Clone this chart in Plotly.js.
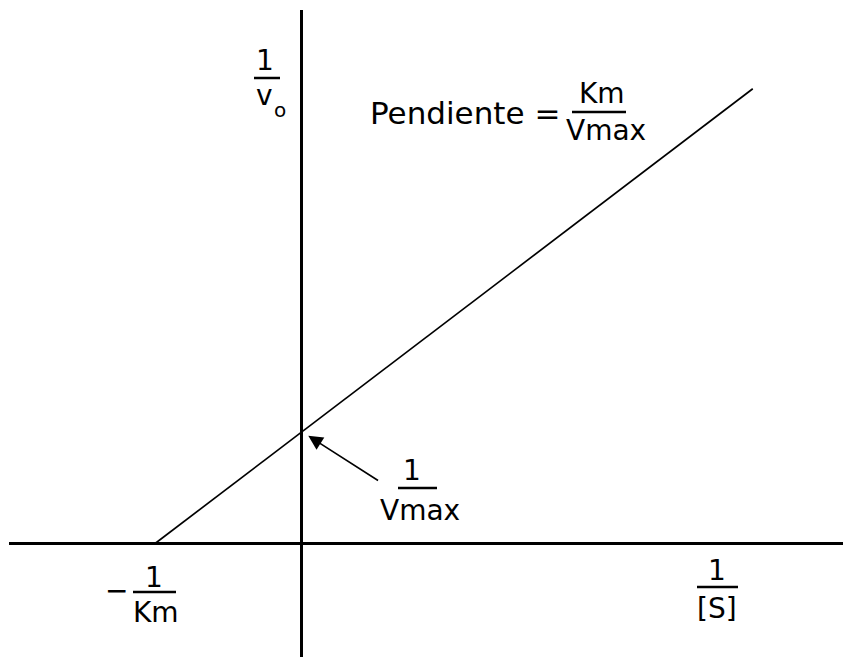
<!DOCTYPE html>
<html>
<head>
<meta charset="utf-8">
<script src="https://cdn.plot.ly/plotly-3.0.1.min.js"></script>
<style>
  html, body { margin: 0; padding: 0; background: #fff; }
  #plot { width: 843px; height: 657px; }
</style>
</head>
<body>
<div id="plot"></div>
<script>
// Lineweaver–Burk double-reciprocal plot (Km = 1, Vmax = 1 in plot units)
const invS = [-1, 3.08];   // 1/[S]
const invV = [0, 4.06];    // 1/v0
const interceptX = [0];    // where the line meets the 1/v0 axis
const interceptY = [1];    // 1/Vmax

const W = 843, H = 657;
const M = {l: 9, r: 0, t: 10, b: 0};
const pw = W - M.l - M.r, ph = H - M.t - M.b;
// page pixel -> paper fraction, for label placement
const px = x => (x - M.l) / pw;
const py = y => 1 - (y - M.t) / ph;

const FONT = 'DejaVu Sans';
function label(text, x, y, size, anchor) {
  return {
    text: text, xref: 'paper', yref: 'paper', x: px(x), y: py(y),
    xanchor: anchor || 'center', yanchor: 'middle', showarrow: false,
    font: {family: FONT, size: size || 28, color: '#000'}
  };
}
function bar(x0, x1, y) {
  return {
    type: 'line', xref: 'paper', yref: 'paper',
    x0: px(x0), x1: px(x1), y0: py(y), y1: py(y),
    line: {color: '#000', width: 2.5}
  };
}

const trace = {
  x: invS, y: invV, mode: 'lines', type: 'scatter',
  line: {color: '#000', width: 1.7}, hoverinfo: 'skip'
};

const axisCommon = {
  showgrid: false, showticklabels: false, ticks: '', showline: false,
  zeroline: true, zerolinecolor: '#000', zerolinewidth: 3, fixedrange: true
};

const layout = {
  width: W, height: H, margin: M,
  paper_bgcolor: '#fff', plot_bgcolor: '#fff',
  showlegend: false,
  xaxis: Object.assign({range: [-1.997, 3.696]}, axisCommon),
  yaxis: Object.assign({range: [-1.013, 4.763]}, axisCommon),
  shapes: [
    bar(254, 280, 78),     // 1 / v0
    bar(572, 626, 112),    // Km / Vmax
    bar(398, 437, 488),    // 1 / Vmax
    bar(133, 176, 592),    // 1 / Km
    bar(697, 738, 587)     // 1 / [S]
  ],
  annotations: [
    // vertical axis title
    label('1', 265, 60),
    label('v', 264, 95),
    label('o', 280, 110, 20),
    // slope
    label('Pendiente =', 368, 113, 31, 'left'),
    label('Km', 602, 93),
    label('Vmax', 606, 130),
    // y-intercept
    label('1', 412, 470),
    label('Vmax', 420, 510),
    {
      x: interceptX[0], y: interceptY[0], xref: 'x', yref: 'y',
      text: '', showarrow: true, arrowhead: 2, arrowsize: 1.8,
      arrowwidth: 1.6, arrowcolor: '#000', standoff: 8,
      ax: 78, ay: 50
    },
    // x-intercept
    label('\u2212', 116, 590),
    label('1', 154, 577),
    label('Km', 156, 612),
    // horizontal axis title
    label('1', 717, 570),
    label('[S]', 717, 608)
  ]
};

Plotly.newPlot('plot', [trace], layout, {staticPlot: true, displayModeBar: false});
</script>
</body>
</html>
